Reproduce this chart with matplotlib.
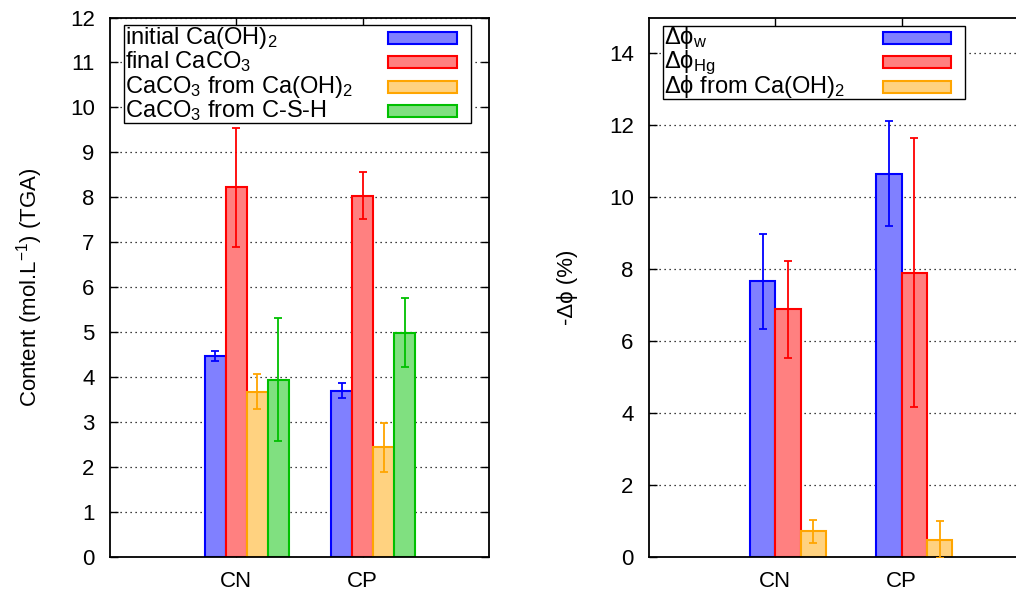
import matplotlib
matplotlib.use('Agg')
import matplotlib.pyplot as plt
from matplotlib.patches import Rectangle
from matplotlib.transforms import Affine2D
import numpy as np

plt.rcParams['font.family'] = ['Liberation Sans', 'DejaVu Sans']
plt.rcParams['mathtext.fontset'] = 'custom'
plt.rcParams['mathtext.rm'] = 'Liberation Sans'
plt.rcParams['mathtext.default'] = 'regular'

# data
samples = ['CN', 'CP']

# left panel: content (mol/L) from TGA
init_caoh2 = [4.47, 3.70]
init_caoh2_err = [0.12, 0.16]
final_caco3 = [8.22, 8.04]
final_caco3_err = [1.32, 0.53]
caco3_from_ch = [3.68, 2.44]
caco3_from_ch_err = [0.38, 0.55]
caco3_from_csh = [3.94, 4.99]
caco3_from_csh_err = [1.37, 0.77]

# right panel: porosity change (%)
dphi_w = [7.66, 10.66]
dphi_w_err = [1.33, 1.47]
dphi_hg = [6.89, 7.91]
dphi_hg_err = [1.35, 3.73]
dphi_ch = [0.72, 0.48]
dphi_ch_err = [0.32, 0.51]

edge = ['#0000ff', '#ff0000', '#ffa500', '#00c000']
fill = ['#8080ff', '#ff8080', '#ffd280', '#80e080']

W, H = 1016, 595
fig = plt.figure(figsize=(W / 100, H / 100), dpi=100)
bottom = (H - 557) / H
height = (557 - 17.5) / H
ax1 = fig.add_axes([110 / W, bottom, (489 - 110) / W, height])
ax2 = fig.add_axes([649 / W, bottom, (1028 - 649) / W, height])

# pixel coords (origin top-left) -> figure, used for the gnuplot-like key
px = Affine2D().scale(1 / W, -1 / H).translate(0, 1) + fig.transFigure

x = np.arange(len(samples))


def style(ax, ymax, yticks):
    ax.set_xlim(-1, 2)
    ax.set_ylim(0, ymax)
    ax.set_xticks(x)
    ax.set_xticklabels(samples)
    ax.set_yticks(yticks)
    ax.tick_params(direction='in', length=6, width=1, labelsize=16,
                   top=True, right=True, pad=11)
    ax.tick_params(axis='x', pad=10)
    ax.set_axisbelow(True)
    ax.yaxis.grid(True, color='black', linestyle=(0, (1, 3)), linewidth=0.9)
    for s in ax.spines.values():
        s.set_linewidth(1.3)


def key(ax, labels, box, sample_x, row0, step):
    l, t, r, b = box
    ax.add_patch(Rectangle((l, t), r - l, b - t, transform=px, clip_on=False,
                           facecolor='white', edgecolor='black', linewidth=1.0,
                           zorder=5))
    for i, lab in enumerate(labels):
        yc = row0 + i * step
        ax.text(l + 1, yc + 6, lab, transform=px, fontsize=17,
                ha='left', va='baseline', zorder=6, clip_on=False)
        ax.add_patch(Rectangle((sample_x[0], yc - 6), sample_x[1] - sample_x[0], 12,
                               transform=px, clip_on=False, facecolor=fill[i],
                               edgecolor=edge[i], linewidth=1.5, zorder=6))


# left panel
series1 = [(init_caoh2, init_caoh2_err), (final_caco3, final_caco3_err),
           (caco3_from_ch, caco3_from_ch_err), (caco3_from_csh, caco3_from_csh_err)]
labels1 = ['initial Ca(OH)$_2$', 'final CaCO$_3$',
           'CaCO$_3$ from Ca(OH)$_2$', 'CaCO$_3$ from C-S-H']
w1 = 1 / 6
for i, (vals, errs) in enumerate(series1):
    pos = x - w1 + i * w1
    ax1.bar(pos, vals, w1, color=fill[i], edgecolor=edge[i], linewidth=1.5, zorder=2)
    ax1.errorbar(pos, vals, yerr=errs, fmt='none', ecolor=edge[i],
                 elinewidth=1.3, capsize=2.8, capthick=1.3, zorder=3)
style(ax1, 12, range(0, 13))
ax1.set_ylabel('Content (mol.L$^{-1}$) (TGA)', fontsize=16, labelpad=18)
key(ax1, labels1, (124, 25, 471, 123.3), (388, 457), 37.8, 24.5)

# right panel
series2 = [(dphi_w, dphi_w_err), (dphi_hg, dphi_hg_err), (dphi_ch, dphi_ch_err)]
labels2 = ['Δϕ$_w$', 'Δϕ$_{Hg}$', 'Δϕ from Ca(OH)$_2$']
w2 = 0.2
for i, (vals, errs) in enumerate(series2):
    pos = x - 0.1 + i * w2
    ax2.bar(pos, vals, w2, color=fill[i], edgecolor=edge[i], linewidth=1.5, zorder=2)
    ax2.errorbar(pos, vals, yerr=errs, fmt='none', ecolor=edge[i],
                 elinewidth=1.3, capsize=2.8, capthick=1.3, zorder=3)
style(ax2, 15, range(0, 15, 2))
ax2.set_ylabel('-Δϕ (%)', fontsize=16, labelpad=22)
key(ax2, labels2, (663, 25.7, 965, 99), (883, 951), 38, 24.4)

fig.savefig('out.png', dpi=100)
